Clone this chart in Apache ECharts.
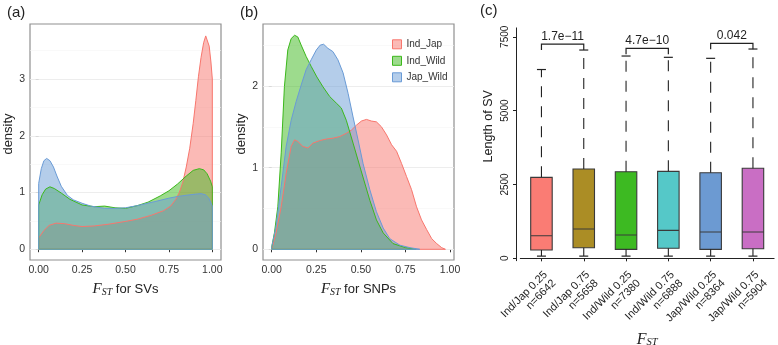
<!DOCTYPE html>
<html>
<head>
<meta charset="utf-8">
<script src="https://cdn.jsdelivr.net/npm/echarts@6/dist/echarts.min.js"></script>
<style>
  html, body { margin: 0; padding: 0; background: #fff; }
  #chart { width: 778px; height: 345px; }
</style>
</head>
<body>
<div id="chart"></div>
<script>
// (a) density of F_ST for SVs  [x, density]
var svIndJap = [[0,0.20],[0.03,0.33],[0.06,0.42],[0.1,0.46],[0.15,0.45],[0.2,0.42],[0.25,0.40],[0.32,0.41],[0.4,0.44],[0.5,0.49],[0.57,0.53],[0.65,0.60],[0.72,0.68],[0.76,0.76],[0.79,0.88],[0.81,1.0],[0.83,1.18],[0.85,1.45],[0.87,1.78],[0.89,2.22],[0.905,2.62],[0.92,3.04],[0.935,3.38],[0.95,3.64],[0.962,3.76],[0.972,3.75],[0.982,3.58],[0.992,3.30],[1,3.0]];
var svIndWild = [[0,0.78],[0.02,0.96],[0.04,1.06],[0.065,1.10],[0.09,1.07],[0.13,0.99],[0.18,0.88],[0.25,0.78],[0.32,0.75],[0.38,0.76],[0.44,0.73],[0.5,0.72],[0.57,0.77],[0.63,0.83],[0.7,0.94],[0.75,1.03],[0.8,1.15],[0.85,1.29],[0.89,1.39],[0.925,1.42],[0.95,1.40],[0.97,1.33],[0.99,1.20],[1,1.10]];
var svJapWild = [[0,1.16],[0.015,1.42],[0.03,1.56],[0.046,1.60],[0.065,1.56],[0.085,1.45],[0.105,1.29],[0.13,1.11],[0.165,0.95],[0.2,0.87],[0.25,0.81],[0.3,0.76],[0.38,0.72],[0.44,0.72],[0.5,0.73],[0.57,0.77],[0.67,0.84],[0.75,0.90],[0.8,0.93],[0.86,0.955],[0.9,0.97],[0.935,0.98],[0.96,0.96],[0.98,0.9],[1,0.76]];

// (b) density of F_ST for SNPs
var snpIndJap = [[0,0.01],[0.024,0.2],[0.053,0.52],[0.081,0.93],[0.109,1.26],[0.128,1.34],[0.146,1.32],[0.174,1.26],[0.203,1.24],[0.231,1.30],[0.268,1.33],[0.306,1.35],[0.343,1.36],[0.381,1.38],[0.418,1.42],[0.447,1.46],[0.475,1.52],[0.503,1.57],[0.531,1.59],[0.559,1.57],[0.587,1.56],[0.615,1.50],[0.644,1.40],[0.672,1.28],[0.7,1.20],[0.728,1.05],[0.756,0.89],[0.784,0.73],[0.812,0.52],[0.84,0.36],[0.869,0.24],[0.897,0.13],[0.925,0.07],[0.953,0.02],[0.974,0]];
var snpIndWild = [[0,0.03],[0.015,0.2],[0.034,0.52],[0.053,1.18],[0.071,1.99],[0.09,2.44],[0.109,2.58],[0.128,2.62],[0.146,2.60],[0.165,2.50],[0.193,2.36],[0.221,2.24],[0.253,2.11],[0.287,1.99],[0.325,1.87],[0.362,1.79],[0.39,1.73],[0.418,1.58],[0.456,1.30],[0.5,0.97],[0.55,0.60],[0.587,0.36],[0.625,0.20],[0.68,0.07],[0.75,0.02],[0.81,0]];
var snpJapWild = [[0,0.03],[0.024,0.28],[0.053,0.77],[0.081,1.26],[0.109,1.58],[0.137,1.81],[0.165,2.01],[0.193,2.20],[0.221,2.32],[0.25,2.44],[0.272,2.50],[0.291,2.51],[0.315,2.46],[0.343,2.42],[0.371,2.32],[0.4,2.16],[0.428,1.91],[0.456,1.62],[0.484,1.34],[0.512,1.05],[0.55,0.73],[0.587,0.46],[0.625,0.26],[0.662,0.13],[0.719,0.05],[0.775,0.02],[0.83,0]];

// (c) SV length boxplots
var groupNames = ['Ind/Jap 0.25','Ind/Jap 0.75','Ind/Wild 0.25','Ind/Wild 0.75','Jap/Wild 0.25','Jap/Wild 0.75'];
var groupN = [6642, 5658, 7380, 6888, 8364, 5904];
var whiskerLow = [75, 75, 75, 75, 75, 75];
var boxQ1 = [281, 359, 305, 339, 305, 325];
var boxMedian = [765, 992, 789, 948, 890, 890];
var boxQ3 = [2742, 3023, 2931, 2945, 2898, 3047];
var whiskerHigh = [6391, 7051, 6848, 6804, 6770, 7085];
// [from group, to group, bracket height, p-value]
var pBrackets = [[0, 1, 7254, '1.7e\u221211'], [2, 3, 7108, '4.7e\u221210'], [4, 5, 7278, '0.042']];

var fstTicks = [0, 0.25, 0.5, 0.75, 1];
var densTicksA = [0, 1, 2, 3];
var densTicksB = [0, 1, 2];
var lenTicks = [0, 2500, 5000, 7500];

var sans = '"Liberation Sans", Arial, sans-serif';
var serif = '"Liberation Serif", "DejaVu Serif", serif';
var ink = '#222';
var red = '#F8766D', green = '#3CB81C', blue = '#6A9BD6';
var boxColors = ['#FA7C74', '#AB8D25', '#3DBA22', '#55C8C8', '#6C9AD2', '#C96EC4'];

// close the polygon down to zero so the outline looks like ggplot's
function closeArea(pts) {
  var a = [[pts[0][0], 0]].concat(pts);
  a.push([pts[pts.length - 1][0], 0]);
  a.push([pts[0][0], 0]);
  return a;
}

function gridMarks(top) {
  var out = [];
  for (var v = 0; v < top; v += 0.5) {
    var major = v % 1 === 0;
    out.push({ yAxis: v, lineStyle: { color: major ? '#EBEBEB' : '#F5F5F5', width: major ? 0.9 : 0.6, type: 'solid' } });
  }
  return out;
}

function densitySeries(name, pts, color, gi, marks) {
  var s = {
    type: 'line', name: name, xAxisIndex: gi, yAxisIndex: gi,
    data: closeArea(pts), symbol: 'none', smooth: false, silent: true, z: 2,
    lineStyle: { color: color, width: 1 },
    itemStyle: { color: color },
    areaStyle: { color: color, opacity: 0.5 }
  };
  if (marks) {
    s.markLine = { silent: true, symbol: 'none', z: 1, animation: false, label: { show: false }, data: marks };
  }
  return s;
}

var fstName = function (size) {
  return {
    fontFamily: sans, color: ink,
    rich: {
      f: { fontFamily: serif, fontStyle: 'italic', fontSize: size, lineHeight: 16, color: ink },
      s: { fontFamily: serif, fontStyle: 'italic', fontSize: size * 0.66, lineHeight: 6, verticalAlign: 'bottom', color: ink },
      t: { fontFamily: sans, fontSize: 13, color: ink }
    }
  };
};

function densityX(gi, min, max, label) {
  return {
    type: 'value', gridIndex: gi, min: min, max: max,
    axisLine: { show: false },
    axisTick: { show: true, length: 3, customValues: fstTicks, lineStyle: { color: '#333' } },
    axisLabel: { customValues: fstTicks, margin: 5, fontSize: 10.5, fontFamily: sans, color: '#333',
      formatter: function (v) { return v.toFixed(2); } },
    splitLine: { show: false },
    name: '{f|F}{s|ST}{t| ' + label + '}', nameLocation: 'middle', nameGap: 21,
    nameTextStyle: fstName(15)
  };
}

function densityY(gi, min, max, ticks) {
  return {
    type: 'value', gridIndex: gi, min: min, max: max,
    axisLine: { show: false },
    axisTick: { show: true, length: 3, customValues: ticks, lineStyle: { color: '#333' } },
    axisLabel: { customValues: ticks, margin: 5, fontSize: 10.5, fontFamily: sans, color: '#333',
      formatter: function (v) { return String(v); } },
    splitLine: { show: false },
    name: 'density', nameLocation: 'middle', nameGap: 15,
    nameTextStyle: { fontSize: 13, fontFamily: sans, color: ink, padding: [0, 0, 0, 16] }
  };
}

var panelGrid = { show: true, borderColor: '#909090', borderWidth: 1.2, backgroundColor: '#fff', outerBoundsMode: 'none' };

var option = {
  animation: false,
  backgroundColor: '#fff',
  title: [
    { text: '(a)', left: 7, top: 5, padding: 0, textStyle: { fontSize: 15, fontWeight: 'normal', fontFamily: sans, color: ink } },
    { text: '(b)', left: 240, top: 5, padding: 0, textStyle: { fontSize: 15, fontWeight: 'normal', fontFamily: sans, color: ink } },
    { text: '(c)', left: 480, top: 3, padding: 0, textStyle: { fontSize: 15, fontWeight: 'normal', fontFamily: sans, color: ink } }
  ],
  legend: {
    orient: 'vertical', left: 392, top: 39.3, padding: 0,
    itemWidth: 9, itemHeight: 9, itemGap: 6.5, icon: 'rect', selectedMode: false,
    textStyle: { fontSize: 10, lineHeight: 9, fontFamily: sans, color: '#333' },
    data: [
      { name: 'Ind_Jap', itemStyle: { color: 'rgba(248,118,109,0.5)', borderColor: red, borderWidth: 1 } },
      { name: 'Ind_Wild', itemStyle: { color: 'rgba(60,184,28,0.5)', borderColor: green, borderWidth: 1 } },
      { name: 'Jap_Wild', itemStyle: { color: 'rgba(106,155,214,0.5)', borderColor: blue, borderWidth: 1 } }
    ]
  },
  grid: [
    Object.assign({ left: 30, top: 24, width: 191, height: 236 }, panelGrid),
    Object.assign({ left: 263, top: 24, width: 191, height: 236 }, panelGrid),
    { left: 520.3, top: 27.9, width: 253.8, height: 232.8, show: false, outerBoundsMode: 'none' }
  ],
  xAxis: [
    densityX(0, -0.05, 1.05, 'for SVs'),
    densityX(1, -0.049, 1.022, 'for SNPs'),
    {
      type: 'category', gridIndex: 2,
      data: groupNames.map(function (g, i) { return g + '\nn=' + groupN[i]; }),
      axisLine: { show: true, lineStyle: { color: ink, width: 1 } },
      axisTick: { show: true, length: 3, alignWithLabel: true, lineStyle: { color: ink } },
      axisLabel: { interval: 0, rotate: 45, margin: 8, verticalAlign: 'top', fontSize: 11, lineHeight: 12, fontFamily: sans, color: ink },
      splitLine: { show: false },
      name: '{f|F}{s|ST}', nameLocation: 'middle', nameGap: 71, nameMoveOverlap: false,
      nameTextStyle: fstName(16)
    }
  ],
  yAxis: [
    densityY(0, -0.19, 3.97, densTicksA),
    densityY(1, -0.131, 2.758, densTicksB),
    {
      type: 'value', gridIndex: 2, min: -80, max: 7800, offset: 4.3,
      axisLine: { show: true, lineStyle: { color: ink, width: 1 } },
      axisTick: { show: true, length: 3, customValues: lenTicks, lineStyle: { color: ink } },
      axisLabel: { customValues: lenTicks, rotate: 90, margin: 6, fontSize: 10, fontFamily: sans, color: ink,
        formatter: function (v) { return String(v); } },
      splitLine: { show: false },
      name: 'Length of SV', nameLocation: 'middle', nameGap: 21,
      nameTextStyle: { fontSize: 12.5, fontFamily: sans, color: ink, padding: [0, 0, 0, 36] }
    }
  ],
  series: [
    densitySeries('Ind_Jap', svIndJap, red, 0, gridMarks(3.97)),
    densitySeries('Ind_Wild', svIndWild, green, 0),
    densitySeries('Jap_Wild', svJapWild, blue, 0),
    densitySeries('Ind_Jap', snpIndJap, red, 1, gridMarks(2.758)),
    densitySeries('Ind_Wild', snpIndWild, green, 1),
    densitySeries('Jap_Wild', snpJapWild, blue, 1),
    {
      type: 'boxplot', xAxisIndex: 2, yAxisIndex: 2, silent: true,
      boxWidth: [21.5, 21.5],
      data: groupNames.map(function (g, i) {
        return {
          value: [boxQ1[i], boxQ1[i], boxMedian[i], boxQ3[i], boxQ3[i]],
          itemStyle: { color: boxColors[i], borderColor: '#3a3a3a', borderWidth: 1.1 }
        };
      })
    },
    {
      // dashed whiskers with staples
      type: 'custom', xAxisIndex: 2, yAxisIndex: 2, silent: true, z: 3,
      data: groupNames.map(function (g, i) { return [i, whiskerLow[i], boxQ1[i], boxQ3[i], whiskerHigh[i]]; }),
      renderItem: function (params, api) {
        var x = api.value(0);
        var lo = api.coord([x, api.value(1)]);
        var q1 = api.coord([x, api.value(2)]);
        var q3 = api.coord([x, api.value(3)]);
        var hi = api.coord([x, api.value(4)]);
        var cw = 4.5;
        var st = { stroke: ink, lineWidth: 1.1, lineDash: [11, 9] };
        var cap = { stroke: ink, lineWidth: 1.2 };
        return { type: 'group', children: [
          { type: 'line', shape: { x1: q1[0], y1: q1[1], x2: lo[0], y2: lo[1] }, style: st },
          { type: 'line', shape: { x1: lo[0] - cw, y1: lo[1], x2: lo[0] + cw, y2: lo[1] }, style: cap },
          { type: 'line', shape: { x1: q3[0], y1: q3[1], x2: hi[0], y2: hi[1] }, style: st },
          { type: 'line', shape: { x1: hi[0] - cw, y1: hi[1], x2: hi[0] + cw, y2: hi[1] }, style: cap }
        ] };
      }
    },
    {
      // significance brackets
      type: 'custom', xAxisIndex: 2, yAxisIndex: 2, silent: true, z: 4,
      data: pBrackets.map(function (b) { return [b[0], b[1], b[2]]; }),
      renderItem: function (params, api) {
        var a = api.coord([api.value(0), api.value(2)]);
        var b = api.coord([api.value(1), api.value(2)]);
        var leg = 6;
        return { type: 'group', children: [
          { type: 'polyline', shape: { points: [[a[0], a[1] + leg], [a[0], a[1]], [b[0], b[1]], [b[0], b[1] + leg]] },
            style: { stroke: ink, lineWidth: 1.2, fill: null } },
          { type: 'text', x: (a[0] + b[0]) / 2, y: a[1] - 1.5,
            style: { text: pBrackets[params.dataIndex][3], align: 'center', verticalAlign: 'bottom',
              fontSize: 12, fontFamily: sans, fill: ink } }
        ] };
      }
    }
  ]
};

var chart = echarts.init(document.getElementById('chart'));
chart.setOption(option);
</script>
</body>
</html>
